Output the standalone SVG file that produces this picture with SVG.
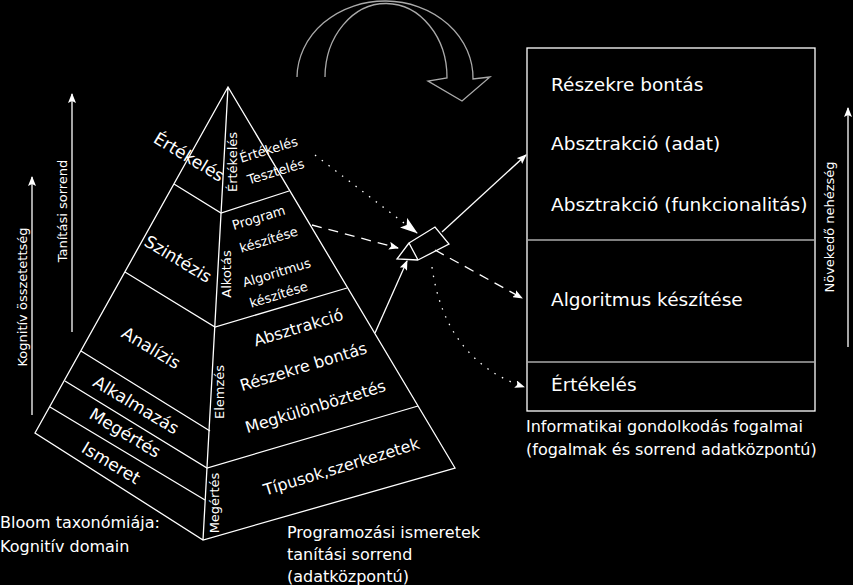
<svg xmlns="http://www.w3.org/2000/svg" width="853" height="585" viewBox="0 0 853 585">
<style>
text{font-family:"DejaVu Sans",sans-serif;fill:#fff}
.l{stroke:#fff;stroke-width:1.3;fill:none}
.g{stroke:#aaa;stroke-width:1.3;fill:none}
.t16{font-size:17px}.t12{font-size:13px}.t15{font-size:16px}.t17{font-size:18.5px}.t13{font-size:13px}
</style>
<defs>
<marker id="a" markerWidth="10" markerHeight="8" refX="9" refY="4" orient="auto" markerUnits="userSpaceOnUse"><path d="M0,0 L10,4 L0,8 L2,4 Z" fill="#fff"/></marker>
<marker id="b" markerWidth="18" markerHeight="12" refX="17" refY="6" orient="auto" markerUnits="userSpaceOnUse"><path d="M0,0 L18,6 L0,12 L4,6 Z" fill="#fff"/></marker>
</defs>
<rect width="853" height="585" fill="#000"/>
<g id="pyramid">
<path class="l" d="M228,87 L35,433 L203,540 L455,468 Z M228,87 L203,540"/>
<path class="l" d="M174,184 L221,213 L289,191 M125,272 L215,327 L347,288 M81,351 L210,431 M65,381 L207,468 L418,406 M50,407 L205,500"/>
<g class="t16" text-anchor="middle">
<text transform="translate(186,162) rotate(31)">Értékelés</text>
<text transform="translate(175,264) rotate(31)">Szintézis</text>
<text transform="translate(148,353) rotate(31)">Analízis</text>
<text transform="translate(133,410) rotate(31)">Alkalmazás</text>
<text transform="translate(122,438) rotate(31)">Megértés</text>
<text transform="translate(108,468) rotate(31)">Ismeret</text>
</g>
<g class="t12" text-anchor="middle">
<text transform="translate(237,162) rotate(-90)">Értékelés</text>
<text transform="translate(231,274) rotate(-90)">Alkotás</text>
<text transform="translate(224,392) rotate(-90)">Elemzés</text>
<text transform="translate(219,503) rotate(-90)">Megértés</text>
<text transform="translate(270,154) rotate(-17)">Értékelés</text>
<text transform="translate(277,176) rotate(-17)">Tesztelés</text>
<text transform="translate(260,222) rotate(-17)">Program</text>
<text transform="translate(270,244) rotate(-17)">készítése</text>
<text transform="translate(278,277) rotate(-17)">Algoritmus</text>
<text transform="translate(280,299) rotate(-17)">készítése</text>
</g>
<g class="t15" text-anchor="middle">
<text transform="translate(300,333) rotate(-17)">Absztrakció</text>
<text transform="translate(305,372) rotate(-17)">Részekre bontás</text>
<text transform="translate(317,412) rotate(-17)">Megkülönböztetés</text>
<text transform="translate(343,472) rotate(-17)">Típusok,szerkezetek</text>
</g>
</g>
<g id="axes">
<line class="l" x1="72" y1="332" x2="72" y2="94" marker-end="url(#a)"/>
<line class="l" x1="32" y1="415" x2="32" y2="177" marker-end="url(#a)"/>
<line class="l" x1="848" y1="347" x2="848" y2="108" marker-end="url(#a)"/>
<text class="t13" text-anchor="middle" transform="translate(67,211) rotate(-90)">Tanítási sorrend</text>
<text class="t13" text-anchor="middle" transform="translate(27,297) rotate(-90)">Kognitív összetettség</text>
<text class="t13" text-anchor="middle" transform="translate(834,227) rotate(-90)">Növekedő nehézség</text>
</g>
<g id="cycle">
<path class="g" d="M297,77 A88,77 0 0 1 473,79 L490,77 L462,101 L428,81 L447,78 A61,74 0 0 0 325,77"/>
</g>
<g id="hub">
<path class="l" d="M409,243 L435,227 L449,244 L418,260 Z M409,243 L397,259 L418,260"/>
</g>
<g id="box">
<rect class="l" x="527" y="48" width="288" height="363"/>
<line class="g" x1="527" y1="240" x2="815" y2="240"/>
<line class="g" x1="527" y1="362" x2="815" y2="362"/>
<g class="t17">
<text x="551" y="91">Részekre bontás</text>
<text x="551" y="150">Absztrakció (adat)</text>
<text x="551" y="211">Absztrakció (funkcionalitás)</text>
<text x="551" y="306">Algoritmus készítése</text>
<text x="551" y="391">Értékelés</text>
</g>
<text class="t15" x="526" y="432">Informatikai gondolkodás fogalmai</text>
<text class="t15" x="526" y="455">(fogalmak és sorrend adatközpontú)</text>
</g>
<g id="captions" class="t15">
<text x="0" y="528">Bloom taxonómiája:</text>
<text x="0" y="552">Kognitív domain</text>
<text x="287" y="538">Programozási ismeretek</text>
<text x="287" y="560">tanítási sorrend</text>
<text x="287" y="582">(adatközpontú)</text>
</g>
<g id="connectors">
<line class="l" x1="375" y1="333" x2="407" y2="261" marker-end="url(#a)"/>
<line class="l" x1="442" y1="232" x2="526" y2="155" marker-end="url(#a)"/>
<line class="l" x1="312" y1="225" x2="398" y2="248" stroke-dasharray="10,7" marker-end="url(#a)"/>
<line class="l" x1="435" y1="250" x2="522" y2="298" stroke-dasharray="10,7" marker-end="url(#a)"/>
<line class="l" x1="315" y1="155" x2="417" y2="233" stroke-dasharray="1.5,7" marker-end="url(#b)"/>
<path class="l" d="M432,267 Q445,360 524,387" stroke-dasharray="1.5,7" marker-end="url(#a)"/>
</g>
</svg>
